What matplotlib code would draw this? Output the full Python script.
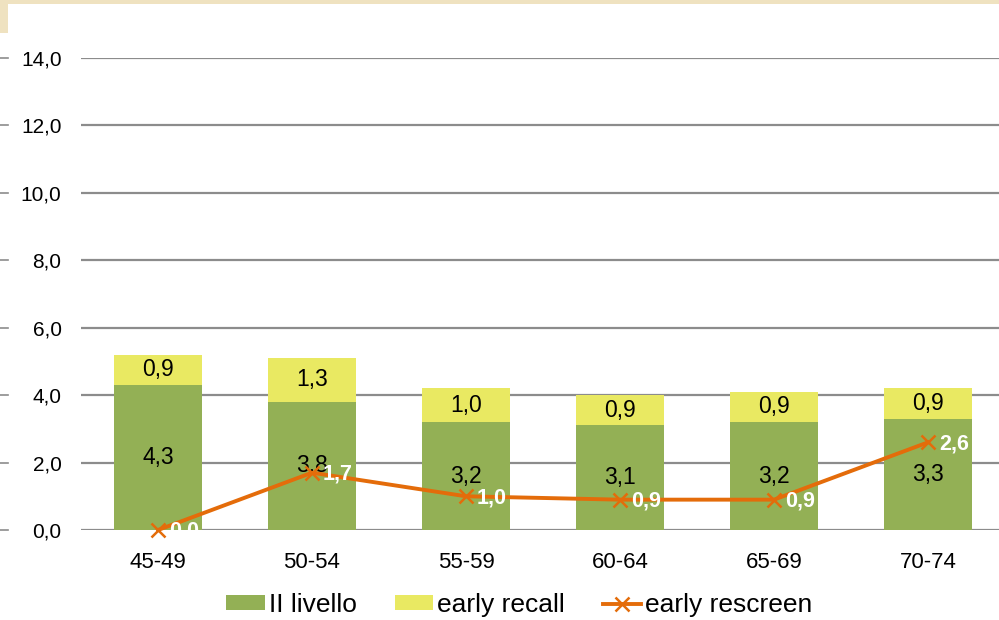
import numpy as np
import matplotlib.pyplot as plt
from matplotlib.patches import Rectangle
from matplotlib.lines import Line2D

plt.rcParams['font.family'] = ['Liberation Sans', 'DejaVu Sans']

categories = ['45-49', '50-54', '55-59', '60-64', '65-69', '70-74']
secondo_livello = [4.3, 3.8, 3.2, 3.1, 3.2, 3.3]
early_recall = [0.9, 1.3, 1.0, 0.9, 0.9, 0.9]
early_rescreen = [0.0, 1.7, 1.0, 0.9, 0.9, 2.6]
yticks = [0, 2, 4, 6, 8, 10, 12, 14]

green = '#93B055'
yellow = '#E9E962'
orange = '#E46C0A'
grid_col = '#8C8C8C'

def fmt(v):
    return ('%.1f' % v).replace('.', ',')

fig = plt.figure(figsize=(9.99, 6.2), dpi=100)
fig.patch.set_facecolor('white')

# parchment strip along the top and left edge
fig.patches.append(Rectangle((0, 1 - 4/620), 1, 4/620, transform=fig.transFigure,
                             facecolor='#EFE2C0', edgecolor='none', zorder=0))
fig.patches.append(Rectangle((0, 1 - 33/620), 8/999, 33/620, transform=fig.transFigure,
                             facecolor='#EFE2C0', edgecolor='none', zorder=0))

ax = fig.add_axes([81/999, 90/620, 924/999, 472/620])
ax.set_facecolor('none')
x = np.arange(len(categories))
w = 0.57

ax.bar(x, secondo_livello, w, color=green, zorder=2, label='II livello')
ax.bar(x, early_recall, w, bottom=secondo_livello, color=yellow, zorder=2, label='early recall')
ax.plot(x, early_rescreen, color=orange, lw=2.8, marker='x', ms=10, mew=1.8,
        zorder=4, clip_on=False, label='early rescreen')

for i in range(len(x)):
    ax.text(x[i], secondo_livello[i] / 2, fmt(secondo_livello[i]), ha='center', va='center',
            fontsize=16.5, color='black', zorder=3)
    ax.text(x[i], secondo_livello[i] + early_recall[i] / 2, fmt(early_recall[i]), ha='center',
            va='center', fontsize=16.5, color='black', zorder=3)
    ax.annotate(fmt(early_rescreen[i]), (x[i], early_rescreen[i]), xytext=(8, -1),
                textcoords='offset points', ha='left', va='center', fontsize=15.5,
                color='white', fontweight='bold', zorder=5, annotation_clip=False)

ax.set_xlim(-0.5, len(x) - 0.5)
ax.set_ylim(0, 14)
ax.set_yticks(yticks)
ax.set_yticklabels([fmt(v) for v in yticks])
ax.set_xticks(x)
ax.set_xticklabels(categories)
ax.tick_params(axis='both', length=0, colors='black')
ax.tick_params(axis='y', pad=14, labelsize=15)
ax.tick_params(axis='x', pad=16, labelsize=16)
for s in ax.spines.values():
    s.set_visible(False)
for v in yticks:
    ax.axhline(v, color=grid_col, lw=1.6, zorder=1)
    # short dashes at the left edge of the slide
    yf = (90 + v / 14 * 472) / 620
    fig.add_artist(Line2D([0, 8/999], [yf, yf], transform=fig.transFigure,
                          color=grid_col, lw=1.2))

handles, labels = ax.get_legend_handles_labels()
order = [1, 2, 0]
fig.legend([handles[i] for i in order], [labels[i] for i in order],
           loc='center', bbox_to_anchor=(0.52, 15/620), ncol=3, frameon=False,
           fontsize=19, handlelength=1.45, handleheight=0.5, handletextpad=0.15,
           columnspacing=1.45, borderaxespad=0, borderpad=0)

fig.savefig('out.png', dpi=100)
